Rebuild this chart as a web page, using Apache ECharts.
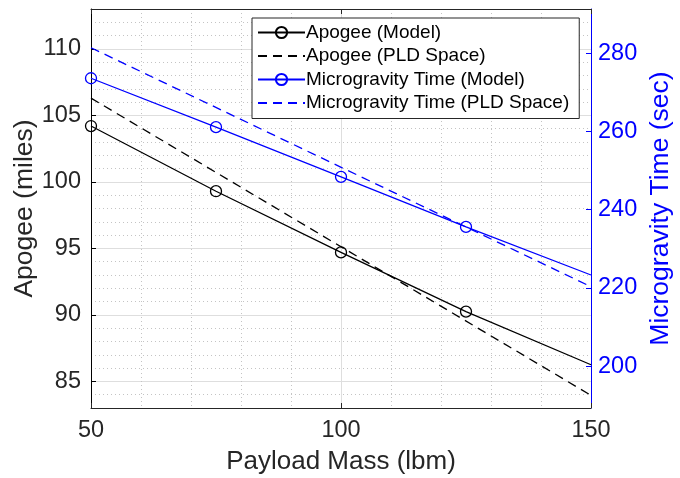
<!DOCTYPE html>
<html>
<head>
<meta charset="utf-8">
<script src="https://cdn.jsdelivr.net/npm/echarts@6/dist/echarts.min.js"></script>
<style>
html,body{margin:0;padding:0;background:#fff;}
#chart{width:680px;height:478px;}
</style>
</head>
<body>
<div id="chart"></div>
<script>
// ---- data ----
const payloadMass = [50, 75, 100, 125, 150];
const apogeeModel = [104.2, 99.3, 94.7, 90.25, 86.25];
const microModel = [273.6, 261.1, 248.4, 235.6, 223.3];
const pldPayload = [50, 150];
const apogeePLD = [106.3, 83.95];
const microPLD = [281.4, 220.3];
const markedPayloads = [50, 75, 100, 125];
const seriesNames = ['Apogee (Model)', 'Apogee (PLD Space)', 'Microgravity Time (Model)', 'Microgravity Time (PLD Space)'];

const FONT = '"Liberation Sans", Arial, Helvetica, sans-serif';
const AX = '#262626';
const BLUE = '#0000ff';

function modelData(ys) {
  return payloadMass.map((x, i) => markedPayloads.includes(x) ? [x, ys[i]] : { value: [x, ys[i]], symbol: 'none' });
}
function pldData(ys) {
  return pldPayload.map((x, i) => [x, ys[i]]);
}

const chart = echarts.init(document.getElementById('chart'), null, { renderer: 'canvas' });
chart.setOption({
  animation: false,
  backgroundColor: '#fff',
  textStyle: { fontFamily: FONT },
  grid: { left: 91, right: 89, top: 9, bottom: 70, containLabel: false, outerBoundsMode: 'none' },
  legend: {
    left: 252, top: 18, orient: 'vertical',
    data: [
      { name: seriesNames[0] },
      { name: seriesNames[1], itemStyle: { opacity: 0 } },
      { name: seriesNames[2] },
      { name: seriesNames[3], itemStyle: { opacity: 0 } }
    ],
    backgroundColor: '#fff', borderColor: AX, borderWidth: 1, borderRadius: 0,
    padding: [5, 10, 6, 5],
    itemWidth: 47, itemHeight: 14, itemGap: 4.5,
    textStyle: { fontFamily: FONT, fontSize: 19, color: '#000', lineHeight: 18, padding: [0, 0, 0, -4] }
  },
  xAxis: [{
    type: 'value', min: 50, max: 150, interval: 50,
    name: 'Payload Mass (lbm)', nameLocation: 'middle', nameGap: 41, nameMoveOverlap: false,
    nameTextStyle: { fontFamily: FONT, fontSize: 26, color: AX },
    axisLine: { show: true, onZero: false, lineStyle: { color: AX, width: 1 } },
    axisTick: { show: true, inside: true, length: 5, lineStyle: { color: AX } },
    axisLabel: { fontFamily: FONT, fontSize: 23.5, color: AX, margin: 11 },
    splitLine: { show: true, lineStyle: { color: '#dedede', width: 1 } },
    minorTick: { show: false, splitNumber: 5 },
    minorSplitLine: { show: true, lineStyle: { color: '#c4c4c4', width: 1, type: [1, 3] } }
  }, {
    type: 'value', position: 'top', min: 50, max: 150, interval: 50,
    axisLine: { show: true, onZero: false, lineStyle: { color: AX, width: 1 } },
    axisTick: { show: true, inside: true, length: 5, lineStyle: { color: AX } },
    axisLabel: { show: false }, splitLine: { show: false }
  }],
  yAxis: [{
    type: 'value', min: 83, max: 113, position: 'left',
    name: 'Apogee (miles)', nameLocation: 'middle', nameGap: 53, nameRotate: 90, nameMoveOverlap: false,
    nameTextStyle: { fontFamily: FONT, fontSize: 26.5, color: AX },
    axisLine: { show: true, onZero: false, lineStyle: { color: '#000', width: 1 } },
    axisTick: { show: true, inside: true, length: 5, lineStyle: { color: '#000' } },
    axisLabel: { fontFamily: FONT, fontSize: 23.5, color: AX, margin: 10, showMinLabel: false, showMaxLabel: false },
    splitLine: { show: true, lineStyle: { color: '#dedede', width: 1 } },
    minorTick: { show: false, splitNumber: 5 },
    minorSplitLine: { show: true, lineStyle: { color: '#c4c4c4', width: 1, type: [1, 3] } }
  }, {
    type: 'value', min: 189.3, max: 291.3, position: 'right',
    name: 'Microgravity Time (sec)', nameLocation: 'middle', nameGap: 56, nameRotate: 90, nameMoveOverlap: false,
    nameTextStyle: { fontFamily: FONT, fontSize: 26.5, color: BLUE },
    axisLine: { show: true, onZero: false, lineStyle: { color: BLUE, width: 1 } },
    axisTick: { show: true, inside: true, length: 5, lineStyle: { color: BLUE } },
    axisLabel: { fontFamily: FONT, fontSize: 23.5, color: BLUE, margin: 7, showMinLabel: false, showMaxLabel: false },
    splitLine: { show: false }
  }],
  series: [{
    name: seriesNames[0], type: 'line', xAxisIndex: 0, yAxisIndex: 0,
    data: modelData(apogeeModel),
    symbol: 'circle', symbolSize: 11,
    itemStyle: { color: 'rgba(0,0,0,0)', borderColor: '#000', borderWidth: 1.3 },
    lineStyle: { color: '#000', width: 1.3 }, color: '#000'
  }, {
    name: seriesNames[1], type: 'line', xAxisIndex: 0, yAxisIndex: 0,
    data: pldData(apogeePLD), symbol: 'none', color: '#000',
    lineStyle: { color: '#000', width: 1.3, type: [9, 6] }
  }, {
    name: seriesNames[2], type: 'line', xAxisIndex: 0, yAxisIndex: 1,
    data: modelData(microModel),
    symbol: 'circle', symbolSize: 11,
    itemStyle: { color: 'rgba(0,0,0,0)', borderColor: BLUE, borderWidth: 1.3 },
    lineStyle: { color: BLUE, width: 1.3 }, color: BLUE
  }, {
    name: seriesNames[3], type: 'line', xAxisIndex: 0, yAxisIndex: 1,
    data: pldData(microPLD), symbol: 'none', color: BLUE,
    lineStyle: { color: BLUE, width: 1.3, type: [9, 6] }
  }]
});
</script>
</body>
</html>
